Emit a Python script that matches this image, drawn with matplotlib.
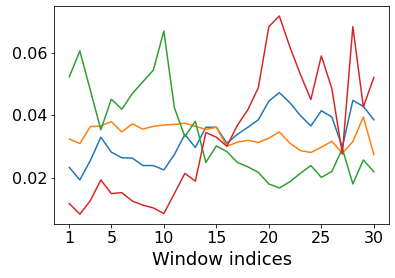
import matplotlib
matplotlib.use("Agg")
import matplotlib.pyplot as plt
import numpy as np

windows = list(range(1, 31))
blue = [0.0233, 0.0193, 0.0255, 0.0330, 0.0282, 0.0264, 0.0263, 0.0239, 0.0239, 0.0225,
        0.0274, 0.0339, 0.0297, 0.0362, 0.0362, 0.0311, 0.0339, 0.0362, 0.0386, 0.0446,
        0.0473, 0.0441, 0.0400, 0.0366, 0.0415, 0.0395, 0.0298, 0.0448, 0.0429, 0.0386]
orange = [0.0324, 0.0310, 0.0364, 0.0366, 0.0380, 0.0347, 0.0373, 0.0356, 0.0365, 0.0369,
          0.0371, 0.0375, 0.0365, 0.0355, 0.0362, 0.0301, 0.0314, 0.0320, 0.0313, 0.0327,
          0.0347, 0.0311, 0.0287, 0.0281, 0.0298, 0.0317, 0.0278, 0.0316, 0.0395, 0.0274]
green = [0.0524, 0.0607, 0.0481, 0.0354, 0.0452, 0.0420, 0.0470, 0.0508, 0.0545, 0.0671,
         0.0425, 0.0332, 0.0381, 0.0249, 0.0302, 0.0284, 0.0249, 0.0235, 0.0217, 0.0180,
         0.0167, 0.0187, 0.0214, 0.0239, 0.0201, 0.0220, 0.0293, 0.0180, 0.0257, 0.0219]
red = [0.0117, 0.0083, 0.0126, 0.0193, 0.0149, 0.0152, 0.0125, 0.0112, 0.0103, 0.0085,
       0.0149, 0.0214, 0.0189, 0.0345, 0.0330, 0.0301, 0.0368, 0.0418, 0.0489, 0.0685,
       0.0719, 0.0620, 0.0532, 0.0451, 0.0591, 0.0486, 0.0276, 0.0685, 0.0427, 0.0522]
xticks = [1, 5, 10, 15, 20, 25, 30]
yticks = [0.02, 0.04, 0.06]

plt.rcParams['font.size'] = 16
fig = plt.figure(figsize=(395/72, 278/72), dpi=72)
ax = fig.add_axes([0.137, 0.194, 0.848, 0.784])
ax.plot(windows, blue, color='#1f77b4', lw=1.5)
ax.plot(windows, orange, color='#ff7f0e', lw=1.5)
ax.plot(windows, green, color='#2ca02c', lw=1.5)
ax.plot(windows, red, color='#d62728', lw=1.5)
ax.set_xticks(xticks)
ax.set_yticks(yticks)
ax.set_yticklabels([f"{v:.2f}" for v in yticks])
ax.set_xlabel("Window indices", fontsize=18, labelpad=5)
fig.savefig("out.png", dpi=72)
